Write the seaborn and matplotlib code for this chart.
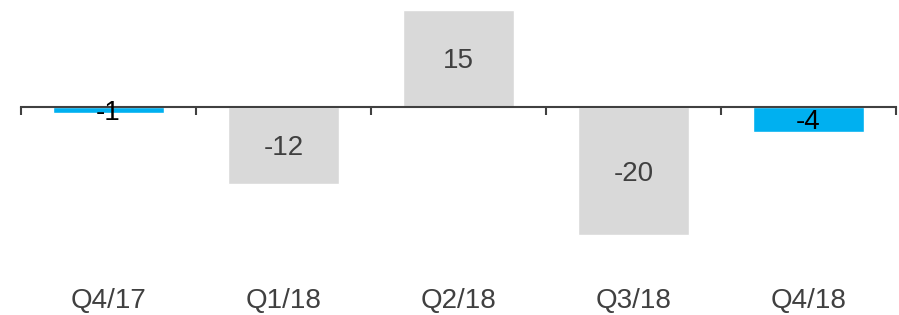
import matplotlib
matplotlib.use("Agg")
import matplotlib.pyplot as plt
import seaborn as sns
import pandas as pd

categories = ["Q4/17", "Q1/18", "Q2/18", "Q3/18", "Q4/18"]
values = [-1, -12, 15, -20, -4]
bar_colors = ["#00B0F0", "#D9D9D9", "#D9D9D9", "#D9D9D9", "#00B0F0"]
label_colors = ["#000000", "#404040", "#404040", "#404040", "#000000"]

sns.set_theme(style="white")
plt.rcParams["font.family"] = ["Liberation Sans", "DejaVu Sans"]

df = pd.DataFrame({"cat": categories, "val": values})

fig = plt.figure(figsize=(8.99, 3.15), dpi=100)
ax = fig.add_axes([21 / 899, 0, 875 / 899, 1])
sns.barplot(data=df, x="cat", y="val", hue="cat", palette=bar_colors,
            width=0.63, legend=False, ax=ax, saturation=1)

ppu = 6.43
ax.set_ylim(-(315 - 106.5) / ppu, 106.5 / ppu)
ax.set_xlim(-0.5, len(categories) - 0.5)

for s in ["top", "left", "right"]:
    ax.spines[s].set_visible(False)
ax.spines["bottom"].set_position(("data", 0))
ax.spines["bottom"].set_color("#404040")
ax.spines["bottom"].set_linewidth(1.5)
ax.set_xticks([i - 0.5 for i in range(len(categories) + 1)])
ax.set_xticklabels([])
ax.tick_params(axis="x", direction="out", length=6, width=1.5, color="#404040", bottom=True)
ax.set_yticks([])
ax.set_xlabel("")
ax.set_ylabel("")

for i, (v, c) in enumerate(zip(values, label_colors)):
    ax.text(i, v / 2, f"{v}", ha="center", va="center_baseline", fontsize=20, color=c)
    ax.text(i, -(298 - 106.5) / ppu, categories[i], ha="center", va="center_baseline",
            fontsize=20, color="#404040")

fig.savefig("out.png", dpi=100)
